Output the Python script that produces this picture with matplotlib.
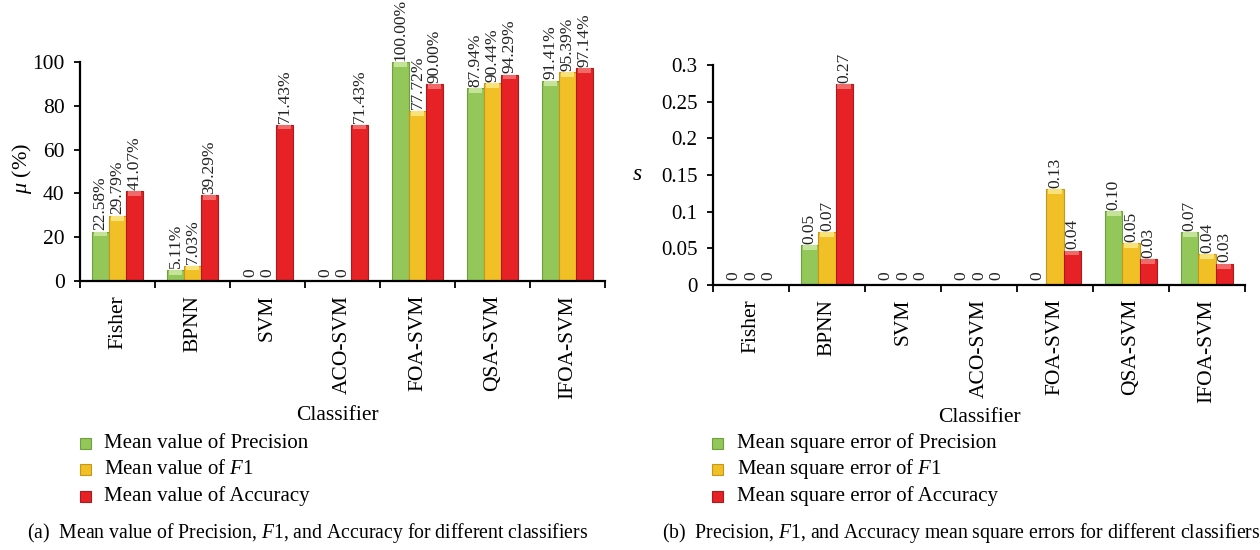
import matplotlib
matplotlib.use("Agg")
import matplotlib.pyplot as plt
import numpy as np

plt.rcParams['font.family'] = ['Liberation Serif', 'DejaVu Serif']
plt.rcParams['mathtext.fontset'] = 'custom'
plt.rcParams['mathtext.rm'] = 'Liberation Serif'
plt.rcParams['mathtext.it'] = 'Liberation Serif:italic'

classifiers = ["Fisher", "BPNN", "SVM", "ACO-SVM", "FOA-SVM", "QSA-SVM", "IFOA-SVM"]

mean_precision = [22.58, 5.11, 0, 0, 100.00, 87.94, 91.41]
mean_f1 = [29.79, 7.03, 0, 0, 77.72, 90.44, 95.39]
mean_accuracy = [41.07, 39.29, 71.43, 71.43, 90.00, 94.29, 97.14]

mse_precision = [0, 0.054, 0, 0, 0, 0.101, 0.072]
mse_f1 = [0, 0.072, 0, 0, 0.131, 0.057, 0.042]
mse_accuracy = [0, 0.274, 0, 0, 0.047, 0.035, 0.029]
mse_precision_lbl = ["0", "0.05", "0", "0", "0", "0.10", "0.07"]
mse_f1_lbl = ["0", "0.07", "0", "0", "0.13", "0.05", "0.04"]
mse_accuracy_lbl = ["0", "0.27", "0", "0", "0.04", "0.03", "0.03"]

left_yticks = [0, 20, 40, 60, 80, 100]
right_yticks = [0, 0.05, 0.1, 0.15, 0.2, 0.25, 0.3]
right_yticklabels = ["0", "0.05", "0.1", "0.15", "0.2", "0.25", "0.3"]

colors = ["#93C75A", "#F1BF26", "#E62226"]
edges = ["#6F9E3C", "#C8961C", "#A91B1F"]
lights = ["#C6E39A", "#F8E27A", "#F06A6A"]

W, H = 1260, 550
fig = plt.figure(figsize=(W / 100, H / 100), dpi=100)


def ax_at(x0, y_top, x1, y_bot):
    return fig.add_axes([x0 / W, 1 - y_bot / H, (x1 - x0) / W, (y_bot - y_top) / H])


def draw_panel(ax, series, labels, ymax, cap_frac, lblsize, zero_lbl_off):
    n = len(classifiers)
    x = np.arange(n)
    bw = 0.227
    for i, (vals, lbls) in enumerate(zip(series, labels)):
        pos = x + (i - 1) * bw
        vals = np.asarray(vals, dtype=float)
        ax.bar(pos, vals, bw, color=colors[i], edgecolor=edges[i], linewidth=0.8, zorder=2)
        cap = np.minimum(vals, ymax * cap_frac)
        ax.bar(pos, cap, bw * 0.8, bottom=vals - cap, color=lights[i], linewidth=0, zorder=3)
        for p, v, s in zip(pos, vals, lbls):
            yy = v + ymax * 0.006 if v > 0 else ymax * zero_lbl_off
            ax.text(p, yy, s, rotation=90, ha='center', va='bottom', fontsize=lblsize,
                    color='#222222', zorder=4)
    ax.set_xlim(-0.5, n - 0.5)
    ax.set_ylim(0, ymax)
    ax.set_xticks(x)
    ax.set_xticklabels(classifiers, rotation=90, fontsize=15.5)
    ax.set_xticks(np.arange(n + 1) - 0.5, minor=True)
    ax.tick_params(axis='x', which='major', length=0, pad=10)
    ax.tick_params(axis='x', which='minor', length=5, width=1.3, direction='out')
    ax.tick_params(axis='y', length=4, width=1.3, direction='out', pad=7)
    for s in ['top', 'right']:
        ax.spines[s].set_visible(False)
    for s in ['left', 'bottom']:
        ax.spines[s].set_linewidth(1.6)
    ax.set_facecolor('none')


# Left panel
axL = ax_at(80, 62, 605, 281)
draw_panel(axL, [mean_precision, mean_f1, mean_accuracy],
           [[f"{v:.2f}%" if v > 0 else "0" for v in s] for s in [mean_precision, mean_f1, mean_accuracy]],
           100, 0.022, 12.5, 0.018)
axL.set_yticks(left_yticks)
axL.set_yticklabels([str(v) for v in left_yticks], fontsize=15.5)
fig.text(22 / W, 1 - 168 / H, r'$\mu$ (%)', rotation=90, ha='center', va='center', fontsize=16)
fig.text(337 / W, 1 - 415 / H, "Classifier", ha='center', va='center', fontsize=15.5)

# Right panel
axR = ax_at(713, 65, 1245, 285)
draw_panel(axR, [mse_precision, mse_f1, mse_accuracy],
           [mse_precision_lbl, mse_f1_lbl, mse_accuracy_lbl],
           0.3, 0.022, 12.5, 0.025)
axR.set_yticks(right_yticks)
axR.set_yticklabels(right_yticklabels, fontsize=15)
fig.text(637 / W, 1 - 175 / H, r'$s$', ha='center', va='center', fontsize=17)
fig.text(979 / W, 1 - 417 / H, "Classifier", ha='center', va='center', fontsize=15.5)

# Legends
leg_left = ["Mean value of Precision", r"Mean value of $F$1", "Mean value of Accuracy"]
leg_right = ["Mean square error of Precision", r"Mean square error of $F$1", "Mean square error of Accuracy"]
rows = [443, 469, 496]
for names, mx, tx in [(leg_left, 85, 104), (leg_right, 717, 737)]:
    for i, (nm, ry) in enumerate(zip(names, rows)):
        fig.patches.append(plt.Rectangle(((mx - 5.5) / W, 1 - (ry + 5.5) / H), 11 / W, 11 / H,
                                         transform=fig.transFigure, facecolor=colors[i],
                                         edgecolor=edges[i], linewidth=0.8))
        fig.text(tx / W, 1 - ry / H, nm, ha='left', va='center', fontsize=15)

# Captions
fig.text(308 / W, 1 - 533 / H, r"(a)  Mean value of Precision, $F$1, and Accuracy for different classifiers",
         ha='center', va='center', fontsize=14.2)
fig.text(961 / W, 1 - 533 / H, r"(b)  Precision, $F$1, and Accuracy mean square errors for different classifiers",
         ha='center', va='center', fontsize=14.2)

fig.savefig("out.png", dpi=100)
